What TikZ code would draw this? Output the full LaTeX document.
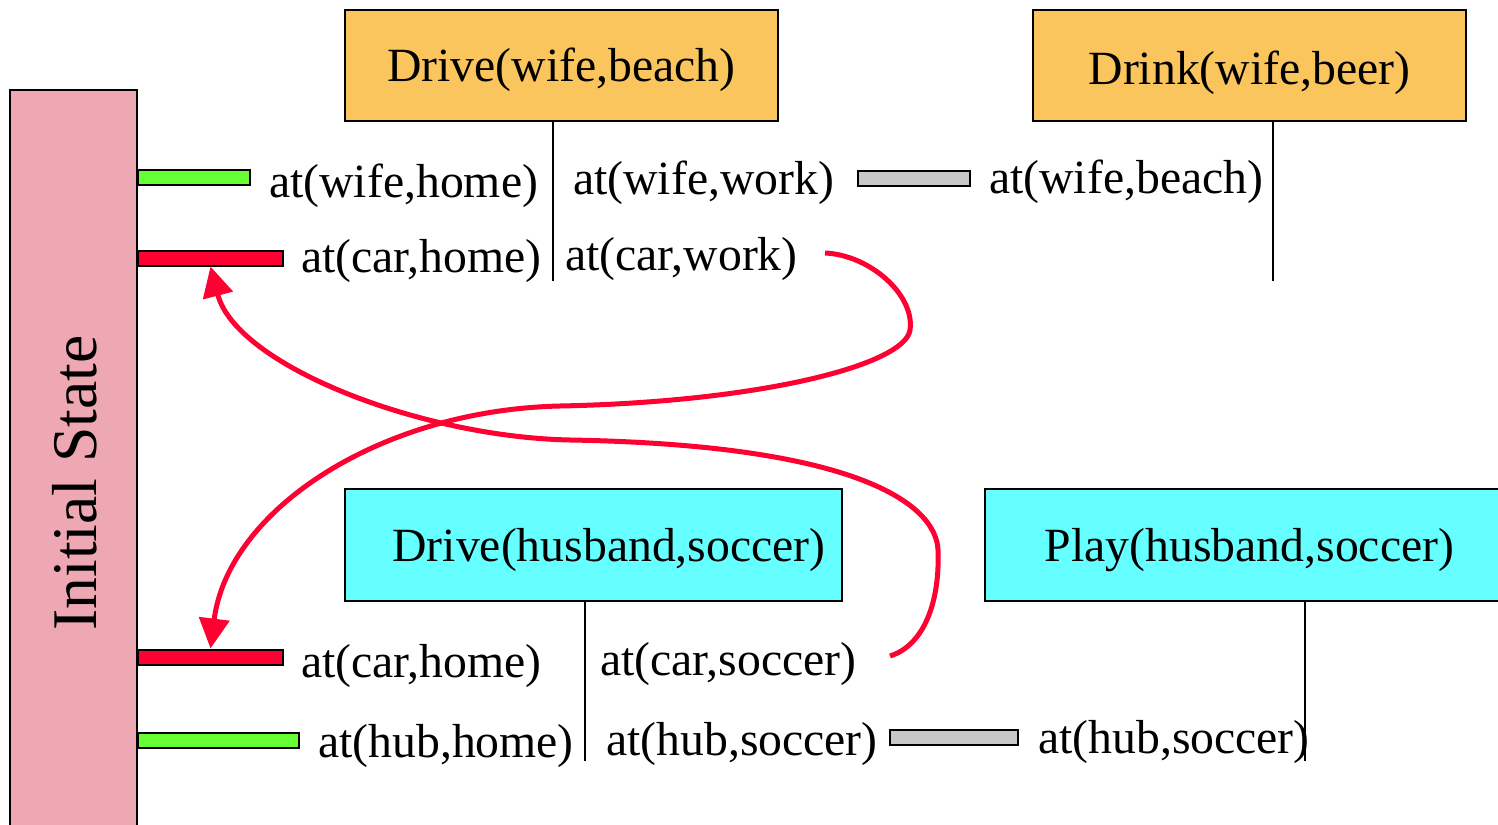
\documentclass[tikz,border=0pt]{standalone}
\usepackage{fontspec}
\setmainfont{Liberation Serif}
\usetikzlibrary{arrows.meta}
\definecolor{actorange}{HTML}{F9C55C}
\definecolor{actcyan}{HTML}{66FFFF}
\definecolor{statepink}{HTML}{EDA8B4}
\definecolor{bargreen}{HTML}{66FF33}
\definecolor{barred}{HTML}{FF0033}
\definecolor{bargray}{HTML}{C8C8C8}
% lower a box's contents without changing its reported size
\newcommand{\lowerby}[2]{\raisebox{-#1}[\height][\depth]{#2}}
\begin{document}
\begin{tikzpicture}[x=1pt,y=-1pt,
  lbl/.style={anchor=base west,inner sep=0pt,font=\fontsize{47.7}{50}\selectfont},
  act/.style={draw=black,line width=2pt,inner sep=0pt,font=\fontsize{47.7}{50}\selectfont},
  bar/.style={draw=black,line width=2pt,inner sep=0pt,anchor=west,minimum height=15pt},
  stem/.style={draw=black,line width=2pt},
  link/.style={draw=barred,line width=5pt,-{Triangle[length=30pt,width=30pt]}}]
\useasboundingbox (0,0) rectangle (1498,824);

% initial state column
\node[draw=black,line width=2pt,fill=statepink,minimum width=127pt,minimum height=760pt,
      inner sep=0pt] (init) at (73.5,470) {};
\node[rotate=90,inner sep=0pt,font=\fontsize{63.6}{66}\selectfont] (initlbl) at (75,483) {Initial State};

% actions
\node[act,fill=actorange,minimum width=433pt,minimum height=111pt] (dwb) at (561.5,65.5) {\lowerby{4pt}{Drive(wife,beach)}};
\node[act,fill=actorange,minimum width=433pt,minimum height=111pt] (dkb) at (1249.5,65.5) {\lowerby{7pt}{Drink(wife,beer)}};
\node[act,fill=actcyan,minimum width=497pt,minimum height=112pt] (dhs) at (593.5,545) {\hspace*{31pt}\lowerby{5pt}{Drive(husband,soccer)}};
\node[act,fill=actcyan,minimum width=529pt,minimum height=112pt] (phs) at (1249.5,545) {\lowerby{5pt}{Play(husband,soccer)}};

% action stems
\draw[stem] ([xshift=-8.5pt]dwb.south) -- ++(0,159);
\draw[stem] ([xshift=23.5pt]dkb.south) -- ++(0,159);
\draw[stem] ([xshift=-8.5pt]dhs.south) -- ++(0,159);
\draw[stem] ([xshift=55.5pt]phs.south) -- ++(0,159);

% fact bars
\node[bar,fill=bargreen,minimum width=112pt] (g1) at (137,177.5) {};
\node[bar,fill=barred,minimum width=145pt] (r1) at (137,258) {};
\node[bar,fill=barred,minimum width=145pt] (r2) at (137,657) {};
\node[bar,fill=bargreen,minimum width=161pt] (g2) at (137,740.5) {};
\node[bar,fill=bargray,minimum width=112pt] (y1) at (857,178) {};
\node[bar,fill=bargray,minimum width=128pt] (y2) at (889,737.5) {};

% facts
\node[lbl] (wh) at (269,197) {at(wife,home)};
\node[lbl] (ch1) at (301,272) {at(car,home)};
\node[lbl] (ww) at (573,194) {at(wife,work)};
\node[lbl] (cw) at (565,270) {at(car,work)};
\node[lbl] (wb) at (989,193) {at(wife,beach)};
\node[lbl] (ch2) at (301,677) {at(car,home)};
\node[lbl] (hh) at (318,757) {at(hub,home)};
\node[lbl] (cs) at (600,675) {at(car,soccer)};
\node[lbl] (hs1) at (606,755) {at(hub,soccer)};
\node[lbl] (hs2) at (1038,753) {at(hub,soccer)};

% threats between car facts
\coordinate (s1) at (825,253);
\coordinate (s2) at (890,656);
\draw[link] (s1) .. controls (870,255) and (915,295) .. (910,330)
  .. controls (905,365) and (760,402) .. (560,406)
  .. controls (380,410) and (228,510) .. (r2.north);
\draw[link] (s2) .. controls (925,645) and (940,600) .. (938,550)
  .. controls (936,505) and (860,445) .. (570,440)
  .. controls (420,437) and (236,365) .. (r1.south);
\end{tikzpicture}
\end{document}
